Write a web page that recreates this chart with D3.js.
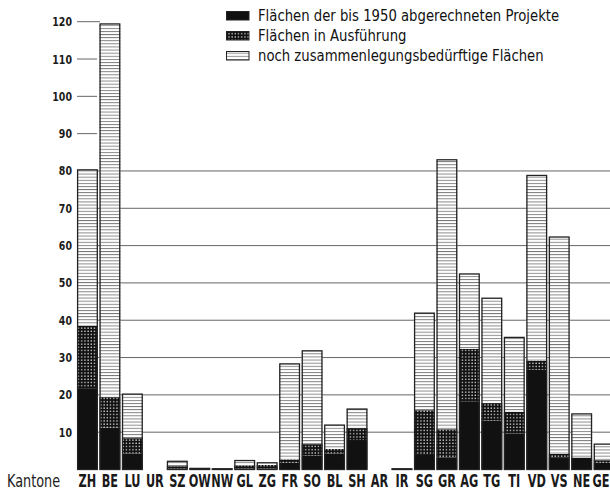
<!DOCTYPE html>
<html><head><meta charset="utf-8">
<script src="https://cdn.jsdelivr.net/npm/d3@7"></script>
<style>
html,body{margin:0;padding:0;background:#fff;}
svg{display:block;}
</style></head>
<body>
<script>
const cantons = ["ZH","BE","LU","UR","SZ","OW","NW","GL","ZG","FR","SO","BL","SH","AR","IR","SG","GR","AG","TG","TI","VD","VS","NE","GE"];
const abgerechnet = [21.8,11.2,4.3,0,0.3,0.3,0.2,0.3,0.3,1.8,3.7,4.3,7.9,0,0.2,3.9,3.2,18.3,13.1,9.7,26.7,3.3,3.2,1.8];
const inAusfuehrung = [16.7,8.2,4.1,0,0.6,0,0,0.8,0.9,0.9,3.1,1.2,3.2,0,0,12.0,7.6,14.0,4.7,5.8,2.5,0.9,0,0.7];
const nochZuTun = [41.8,100.0,11.8,0,1.3,0,0,1.3,0.6,25.6,25.0,6.4,5.1,0,0,26.0,72.2,20.1,28.1,19.9,49.6,58.1,11.7,4.3];
const seriesNames = ["Flächen der bis 1950 abgerechneten Projekte","Flächen in Ausführung","noch zusammenlegungsbedürftige Flächen"];
const tickValues = [10,20,30,40,50,60,70,80,90,100,110,120];
const gridValues = [10,20,30,40,50,60,70,80];
const shortTickValues = [90,100,110,120];
const axisTitle = "Kantone";

const W = 610, H = 491;
const svg = d3.select("body").append("svg").attr("width", W).attr("height", H);
const defs = svg.append("defs");

// patterns
const pGrid = defs.append("pattern").attr("id","pgrid").attr("patternUnits","userSpaceOnUse")
  .attr("width",3.2).attr("height",3.2);
pGrid.append("rect").attr("width",3.2).attr("height",3.2).attr("fill","#111");
pGrid.append("rect").attr("x",1.1).attr("y",1.1).attr("width",1.3).attr("height",1.3).attr("fill","#ddd");

const pLines = defs.append("pattern").attr("id","plines").attr("patternUnits","userSpaceOnUse")
  .attr("width",4).attr("height",3.1);
pLines.append("rect").attr("width",4).attr("height",3.1).attr("fill","#fff");
pLines.append("rect").attr("y",0).attr("width",4).attr("height",0.9).attr("fill","#777");

const fills = ["#111","url(#pgrid)","url(#plines)"];

const x = d3.scaleBand().domain(cantons).range([77, 77 + 22.4*cantons.length]).paddingInner(0.07).paddingOuter(0);
const y = d3.scaleLinear().domain([0,120]).range([469.5, 21.7]);

const fontC = "'DejaVu Sans Condensed','DejaVu Sans',sans-serif";

// gridlines
svg.append("g").selectAll("line").data(gridValues).join("line")
  .attr("x1",77).attr("x2",W).attr("y1",d=>y(d)).attr("y2",d=>y(d))
  .attr("stroke","#666").attr("stroke-width",1);
svg.append("g").selectAll("line").data(shortTickValues).join("line")
  .attr("x1",77).attr("x2",d=>d===120?100:97).attr("y1",d=>y(d)).attr("y2",d=>y(d))
  .attr("stroke","#666").attr("stroke-width",1);

// tick labels
svg.append("g").selectAll("text").data(tickValues).join("text")
  .attr("transform",d=>`translate(72,${y(d)}) scale(0.84,1)`).attr("dy","0.36em").attr("text-anchor","end")
  .attr("font-family",fontC).attr("font-weight","bold").attr("font-size",12.5).attr("fill","#1a1a1a")
  .text(d=>d);

// stacked data
const rows = cantons.map((c,i)=>({k:c, a:abgerechnet[i], b:inAusfuehrung[i], c:nochZuTun[i]}));
const stack = d3.stack().keys(["a","b","c"])(rows);

const bw = x.bandwidth();
stack.forEach((s,si)=>{
  svg.append("g").selectAll("rect").data(s.filter(d=>d[1]-d[0]>0)).join("rect")
    .attr("x",d=>x(d.data.k)).attr("width",bw)
    .attr("y",d=>y(d[1])).attr("height",d=>y(d[0])-y(d[1]))
    .attr("fill",fills[si]);
});
// outlines
svg.append("g").selectAll("rect").data(rows.filter(d=>d.a+d.b+d.c>0)).join("rect")
  .attr("x",d=>x(d.k)+0.6).attr("width",bw-1.2)
  .attr("y",d=>y(d.a+d.b+d.c)).attr("height",d=>Math.max(0.6,y(0)-y(d.a+d.b+d.c)))
  .attr("fill","none").attr("stroke","#222").attr("stroke-width",1.3);

// category labels
const sx = 0.74;
svg.append("g").selectAll("text").data(cantons).join("text")
  .attr("text-anchor","middle")
  .attr("font-family",fontC).attr("font-weight","bold").attr("font-size",17).attr("fill","#1a1a1a")
  .text(d=>d)
  .attr("transform",function(d){
    const half = this.getComputedTextLength()*sx/2;
    const cx = Math.min(x(d)+bw/2, W - 0.5 - half);
    return `translate(${cx},487) scale(${sx},1)`;
  });
svg.append("text").attr("transform","translate(7,487) scale(0.84,1)")
  .attr("font-family",fontC).attr("font-size",17).attr("fill","#1a1a1a").text(axisTitle);

// legend
const lg = svg.append("g");
const lgY = [11.5, 31.5, 51.5];
seriesNames.forEach((n,i)=>{
  lg.append("rect").attr("x",226.5).attr("y",lgY[i]).attr("width",22.5).attr("height",8.5)
    .attr("fill",fills[i]).attr("stroke","#222").attr("stroke-width",1);
  lg.append("text").attr("transform",`translate(258,${lgY[i]+9.8}) scale(0.92,1)`)
    .attr("font-family",fontC).attr("font-size",16).attr("fill","#111").text(n);
});
</script>
</body></html>
